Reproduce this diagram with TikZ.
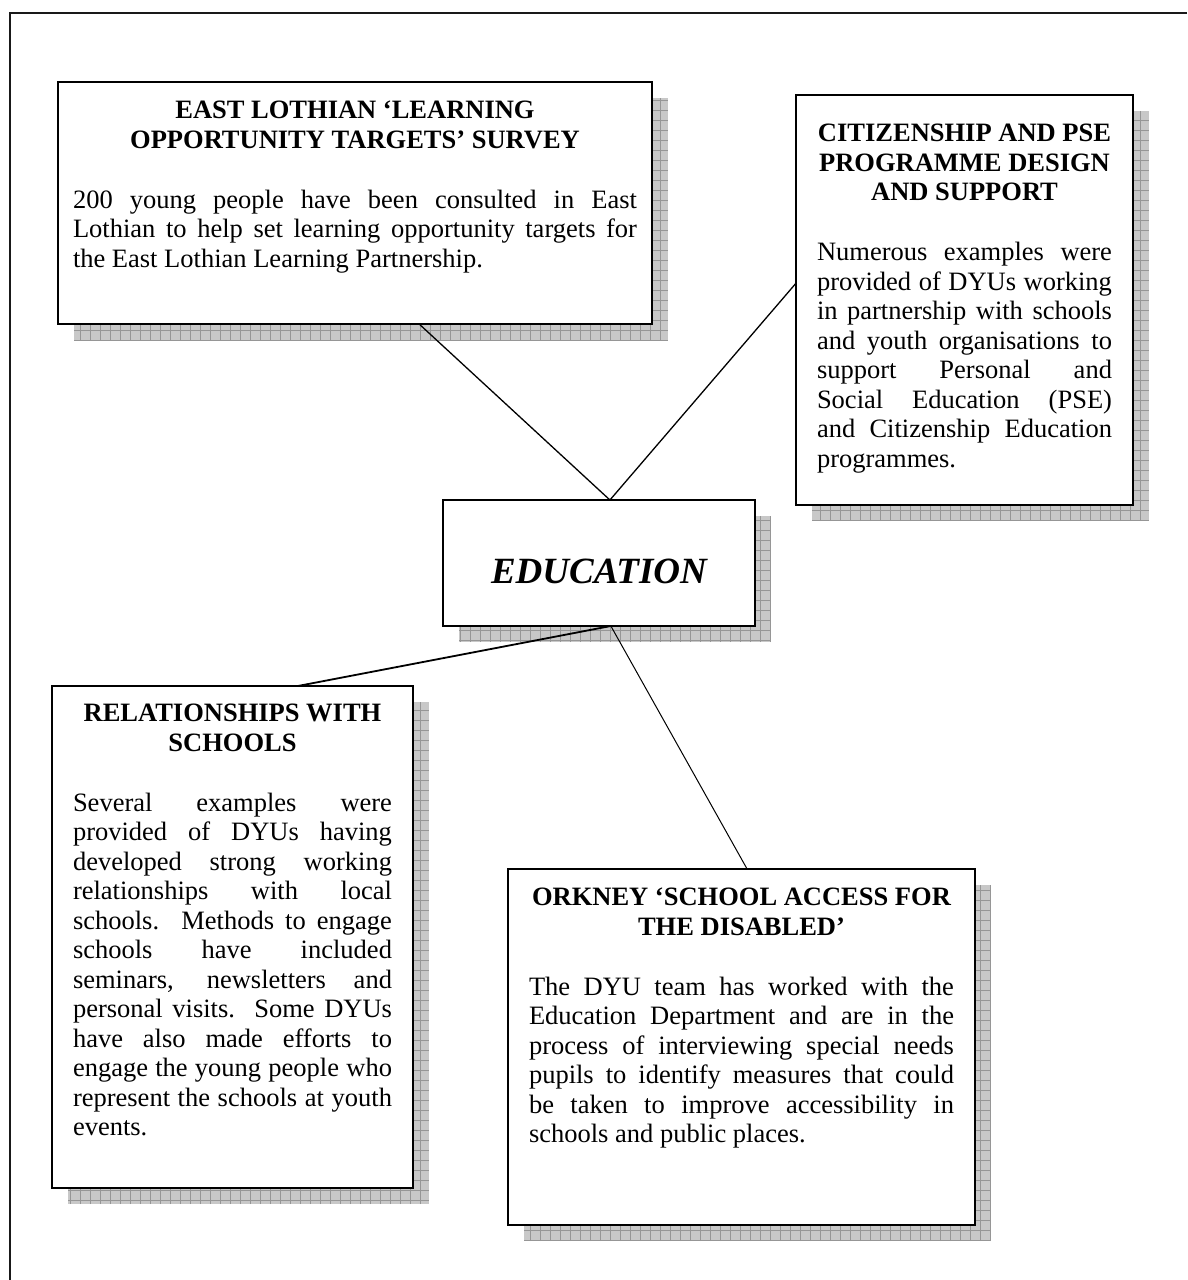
\documentclass[tikz,border=0pt]{standalone}
\usepackage{fontspec}
\setmainfont{Liberation Serif}
\usetikzlibrary{calc,backgrounds}
\definecolor{shadefill}{RGB}{200,200,200}
\definecolor{shadeline}{RGB}{150,150,150}
\newcommand\pjline[1]{\hbox to\linewidth{#1}}
\newcommand\plast[1]{\hbox{#1}}
\newcommand\ptitle[1]{\hbox to\linewidth{\hss\strut #1\hss}}
\newcommand\castshadow[1]{%
  \begin{scope}
    \clip ([shift={(16pt,-16pt)}]#1.south west) rectangle ([shift={(16pt,-16pt)}]#1.north east);
    \fill[shadefill] ([shift={(16pt,-16pt)}]#1.south west) rectangle ([shift={(16pt,-16pt)}]#1.north east);
    \draw[shadeline, line width=0.7pt, step=10pt] ([shift={(16pt,-16pt)}]#1.south west) grid ([shift={(16pt,-16pt)}]#1.north east);
  \end{scope}}
\tikzset{
  panel/.style={draw=black, line width=2pt, fill=white, inner ysep=0pt, outer sep=0pt,
    font=\fontsize{26.5pt}{29.5pt}\selectfont},
  edubox/.style={draw=black, line width=2pt, fill=white, inner sep=0pt, outer sep=0pt,
    text height=40pt, text depth=0pt, font=\bfseries\itshape\fontsize{37pt}{40pt}\selectfont},
  link/.style={draw=black, line width=1.3pt},
}
\begin{document}
\begin{tikzpicture}[x=1pt, y=-1pt]
\useasboundingbox (0,0) rectangle (1187,1280);
\draw[line width=2pt, black!90] (1187,13) -- (10,13) -- (10,1280);

% East Lothian
\node[panel, inner xsep=15pt] (b1) at (355,203) {\parbox[c][242pt][t]{564pt}{%
  \vspace*{16.3pt}\bfseries
  \ptitle{EAST LOTHIAN ‘LEARNING}
  \ptitle{OPPORTUNITY TARGETS’ SURVEY}
  \vspace{30.5pt}\mdseries
  \pjline{200 young people have been consulted in East}
  \pjline{Lothian to help set learning opportunity targets for}
  \plast{the East Lothian Learning Partnership.}}};

% Citizenship
\node[panel, inner xsep=21pt] (b2) at (964.5,300) {\parbox[c][410pt][t]{295pt}{%
  \vspace*{26.3pt}\bfseries
  \ptitle{CITIZENSHIP AND PSE}
  \ptitle{PROGRAMME DESIGN}
  \ptitle{AND SUPPORT}
  \vspace{30.5pt}\mdseries
  \pjline{Numerous examples were}
  \pjline{provided of DYUs working}
  \pjline{in partnership with schools}
  \pjline{and youth organisations to}
  \pjline{support Personal and}
  \pjline{Social Education (PSE)}
  \pjline{and Citizenship Education}
  \plast{programmes.}}};

% Education
\node[edubox, minimum width=312pt, minimum height=126pt] (edu) at (599,563) {EDUCATION};

% Relationships
\node[panel, inner xsep=21pt] (b3) at (232.5,937) {\parbox[c][502pt][t]{319pt}{%
  \vspace*{15.3pt}\bfseries
  \ptitle{RELATIONSHIPS WITH}
  \ptitle{SCHOOLS}
  \vspace{30.5pt}\mdseries
  \pjline{Several examples were}
  \pjline{provided of DYUs having}
  \pjline{developed strong working}
  \pjline{relationships with local}
  \pjline{schools.\ \ Methods to engage}
  \pjline{schools have included}
  \pjline{seminars, newsletters and}
  \pjline{personal visits.\ \ Some DYUs}
  \pjline{have also made efforts to}
  \pjline{engage the young people who}
  \pjline{represent the schools at youth}
  \plast{events.}}};

% Orkney
\node[panel, inner xsep=21pt] (b4) at (741.5,1047) {\parbox[c][356pt][t]{425pt}{%
  \vspace*{16.3pt}\bfseries
  \ptitle{ORKNEY ‘SCHOOL ACCESS FOR}
  \ptitle{THE DISABLED’}
  \vspace{30.5pt}\mdseries
  \pjline{The DYU team has worked with the}
  \pjline{Education Department and are in the}
  \pjline{process of interviewing special needs}
  \pjline{pupils to identify measures that could}
  \pjline{be taken to improve accessibility in}
  \plast{schools and public places.}}};

\begin{scope}[on background layer]
  \fill[white] (0,0) rectangle (1187,1280);
  \castshadow{b1}
  \castshadow{b2}
  \castshadow{edu}
  \castshadow{b3}
  \castshadow{b4}
\end{scope}

\coordinate (p1) at ($(b1.south west)!0.608!(b1.south east)$);
\coordinate (p2) at ($(edu.north west)!0.535!(edu.north east)$);
\coordinate (p3) at ($(b2.north west)!0.459!(b2.south west)$);
\coordinate (p4) at ($(edu.south west)!0.538!(edu.south east)$);
\coordinate (p5) at ($(b3.north west)!0.681!(b3.north east)$);
\coordinate (p6) at ($(b4.north west)!0.512!(b4.north east)$);

\draw[link] (p1) -- (p2);
\draw[link] (p3) -- (p2);
\draw[link, line width=1.8pt] (p4) -- (p5);
\draw[link, line width=1pt] (p4) -- (p6);
\end{tikzpicture}
\end{document}
